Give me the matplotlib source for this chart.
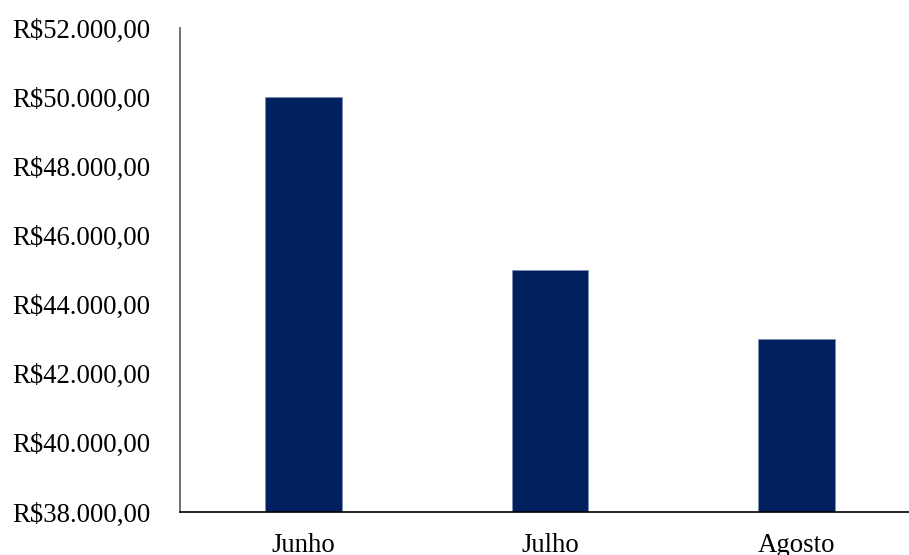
import matplotlib
matplotlib.use("Agg")
from matplotlib import pyplot as plt
from matplotlib.ticker import FuncFormatter

meses = ["Junho", "Julho", "Agosto"]
valores = [50000, 45000, 43000]
ticks_y = [38000, 40000, 42000, 44000, 46000, 48000, 50000, 52000]

plt.rcParams["font.family"] = ["Liberation Serif", "DejaVu Serif"]


def reais(v, pos=None):
    txt = f"{v:,.2f}".replace(",", "X").replace(".", ",").replace("X", ".")
    return "R$" + txt


fig = plt.figure(figsize=(9.09, 5.55), dpi=100)
ax = fig.add_axes([0.198, 0.0775, 0.814, 0.872])

x = range(len(meses))
ax.bar(x, valores, width=0.31, color="#002060", edgecolor="#8090b0", linewidth=0.5, zorder=2)

ax.set_xlim(-0.5, 2.5)
ax.set_ylim(38000, 52000)
ax.set_yticks(ticks_y)
ax.yaxis.set_major_formatter(FuncFormatter(reais))
ax.set_xticks(list(x))
ax.set_xticklabels(meses)

ax.tick_params(axis="y", length=0, pad=21.5, labelsize=19.3, labelcolor="#000000")
ax.tick_params(axis="x", length=0, pad=15, labelsize=19.3, labelcolor="#000000")

for s in ["top", "right"]:
    ax.spines[s].set_visible(False)
ax.spines["left"].set_color("#595959")
ax.spines["left"].set_linewidth(1.2)
ax.spines["bottom"].set_color("#000000")
ax.spines["bottom"].set_linewidth(1.2)

fig.savefig("out.png", dpi=100)
